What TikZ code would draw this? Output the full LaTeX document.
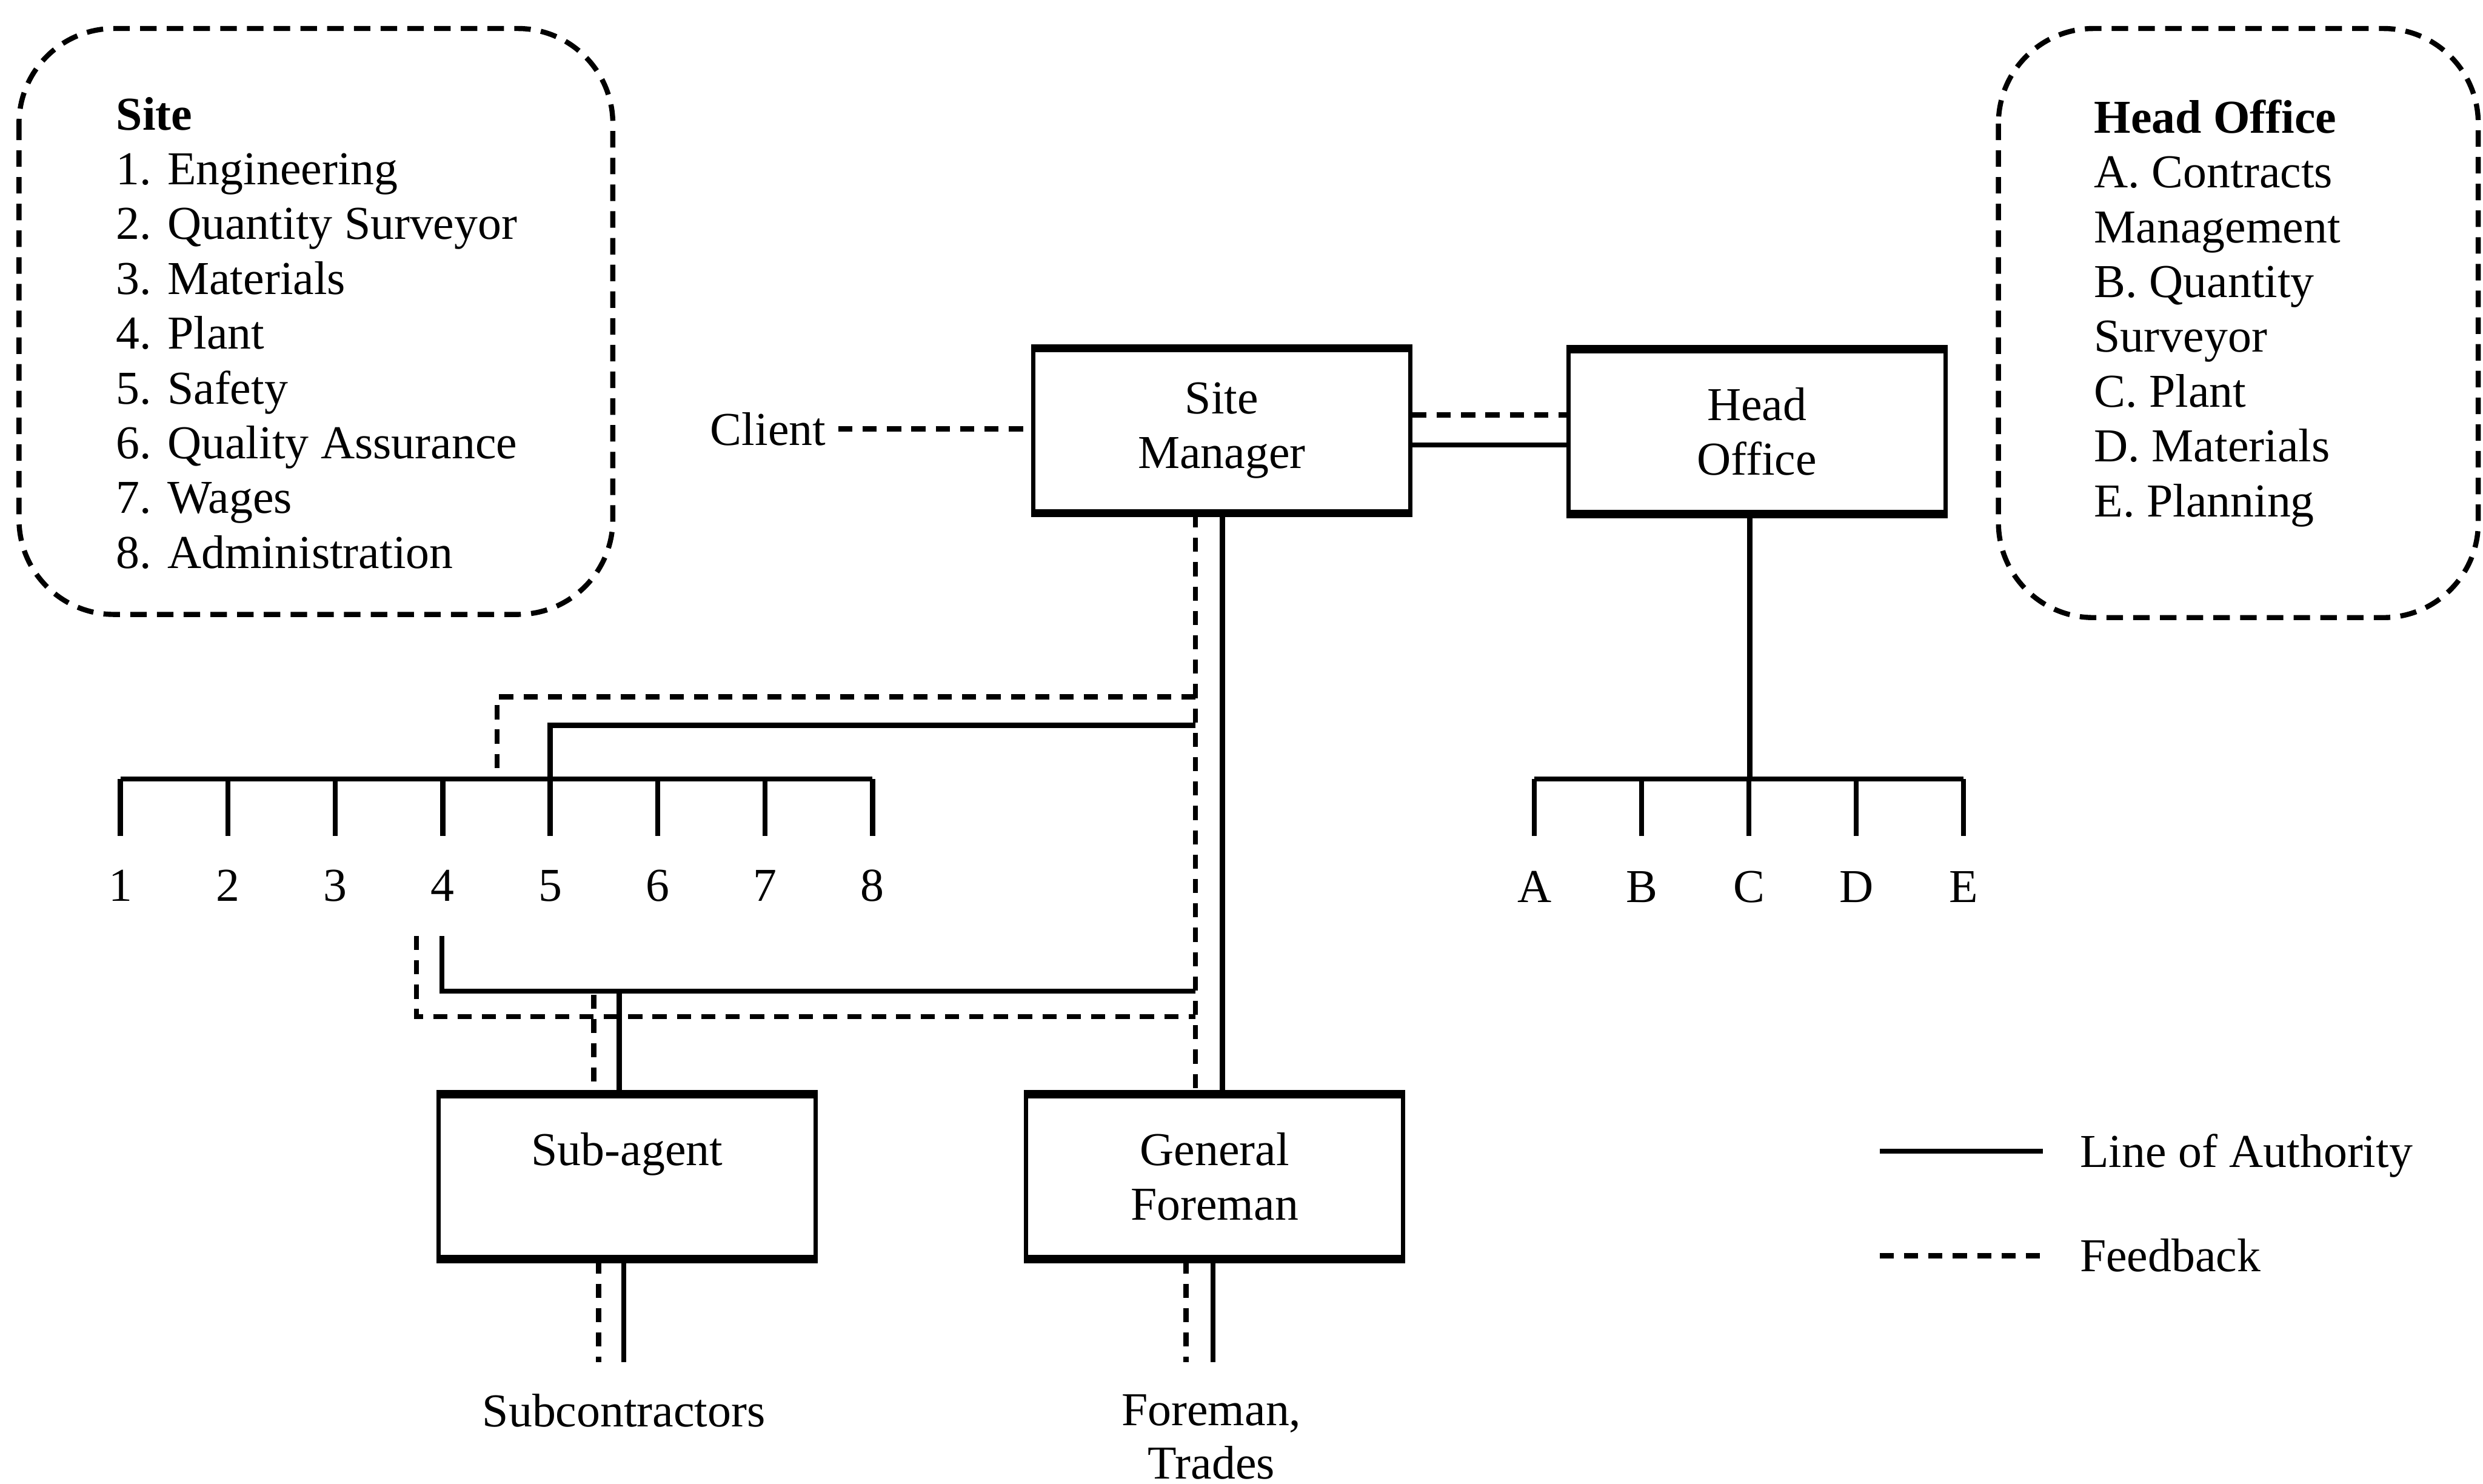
\documentclass[tikz,border=0pt]{standalone}
\usepackage{fontspec}
\setmainfont{Liberation Serif}
\begin{document}
\begin{tikzpicture}[x=0.01416cm, y=-0.01416cm,
  every node/.style={font=\fontsize{12}{13.9}\selectfont, inner sep=0pt},
  unitbox/.style={draw, line width=1.1pt, minimum width=3.37cm, minimum height=1.44cm, align=center},
  auth/.style={line width=1.3pt},
  fb/.style={line width=1.3pt, dash pattern=on 3.6pt off 2.6pt},
  group/.style={line width=1.3pt, dash pattern=on 4.2pt off 2.6pt, rounded corners=0.85cm}]

\useasboundingbox (0,0) rectangle (1568,937);

% departmental key boxes
\draw[group] (12,18) rectangle (387,388);
\draw[group] (1262,18) rectangle (1565,390);

\node[anchor=base west] (sitehead) at (73,82) {\bfseries Site};
\foreach \t [count=\i] in {1. Engineering, 2. Quantity Surveyor, 3. Materials, 4. Plant,
    5. Safety, 6. Quality Assurance, 7. Wages, 8. Administration}
  \node[anchor=base west] (site\i) at (73,{82+34.6*\i}) {\t};

\node[anchor=base west] (hohead) at (1322,84) {\bfseries Head Office};
\foreach \t [count=\i] in {A. Contracts, Management, B. Quantity, Surveyor,
    C. Plant, D. Materials, E. Planning}
  \node[anchor=base west] (hol\i) at (1322,{84+34.6*\i}) {\t};

% main units
\node[unitbox] (sm) at (771.5,272) {Site\\Manager};
\node[unitbox] (ho) at (1109.5,272.5) {Head\\Office};
\node[unitbox] (sa) at (396,743) {Sub-agent\\\mbox{}};
\node[unitbox] (gf) at (767,743) {General\\Foreman};
\foreach \b in {sm,ho,sa,gf}
  \draw[line width=2pt] (\b.north west) -- (\b.north east) (\b.south west) -- (\b.south east);

\node[anchor=base] (client) at (485,281) {Client};
\draw[fb] ([xshift=3pt]client.east) -- (client.east -| sm.west);

% Site Manager -- Head Office
\draw[fb] (sm.east |- 0,262) -- (ho.west |- 0,262);
\draw[auth] (sm.east |- 0,281) -- (ho.west |- 0,281);

% Site Manager down to General Foreman
\draw[auth] (sm.south -| 772,0) -- (gf.north -| 772,0);
\draw[fb] (sm.south -| 755,0) -- (gf.north -| 755,0);

% site departments bus
\coordinate (sbL) at (76,492);
\coordinate (sbR) at (551,492);
\draw[auth] (sbL) -- (sbR);
\foreach \i in {1,...,8} {
  \coordinate (st\i) at ({76+67.86*(\i-1)},492);
  \draw[auth] (st\i) -- ++(0,36);
  \node[anchor=base] (num\i) at ({76+67.86*(\i-1)},569) {\i};
}

% links from the Site Manager lines into the bus
\coordinate (fbTR) at (755,440);
\coordinate (fbTL) at (314,440);
\draw[fb] (fbTR) -- (fbTL) -- (fbTL |- sbL);
\coordinate (auTR) at (755,458);
\draw[auth] (auTR) -- (auTR -| st5) -- (st5);

% Plant loop to Sub-agent
\coordinate (auBL) at (279,591);
\coordinate (auBR) at (755,626);
\draw[auth] (auBL) -- (auBL |- auBR) -- (auBR);
\coordinate (fbBL) at (263,591);
\coordinate (fbBR) at (755,642);
\draw[fb] (fbBL) -- (fbBL |- fbBR) -- (fbBR);
\draw[auth] (391,626) -- (sa.north -| 391,0);
\draw[fb] (375,628) -- (sa.north -| 375,0);

% head office departments bus
\draw[auth] (ho.south -| 1105,0) -- (1105,492);
\coordinate (hbL) at (969,492);
\coordinate (hbR) at (1240,492);
\draw[auth] (hbL) -- (hbR);
\foreach \l [count=\i] in {A,B,C,D,E} {
  \coordinate (ht\i) at ({969+67.75*(\i-1)},492);
  \draw[auth] (ht\i) -- ++(0,36);
  \node[anchor=base] (let\i) at ({969+67.75*(\i-1)},570) {\l};
}

% below Sub-agent and General Foreman
\coordinate (saA) at (394,860);
\coordinate (saF) at (378,860);
\draw[auth] (sa.south -| saA) -- (saA);
\draw[fb] (sa.south -| saF) -- (saF);
\node[anchor=base] (subc) at (394,901) {Subcontractors};

\coordinate (gfA) at (766,860);
\coordinate (gfF) at (749,860);
\draw[auth] (gf.south -| gfA) -- (gfA);
\draw[fb] (gf.south -| gfF) -- (gfF);
\node[anchor=base] (fmn) at (765,900) {Foreman,};
\node[anchor=base] (trd) at (765,934) {Trades};

% legend
\coordinate (la1) at (1187,727);
\coordinate (la2) at (1290,727);
\draw[auth] (la1) -- (la2);
\node[anchor=base west] (lat) at (1313,737) {Line of Authority};
\coordinate (lf1) at (1187,793);
\coordinate (lf2) at (1290,793);
\draw[fb] (lf1) -- (lf2);
\node[anchor=base west] (lft) at (1313,803) {Feedback};
\end{tikzpicture}
\end{document}
